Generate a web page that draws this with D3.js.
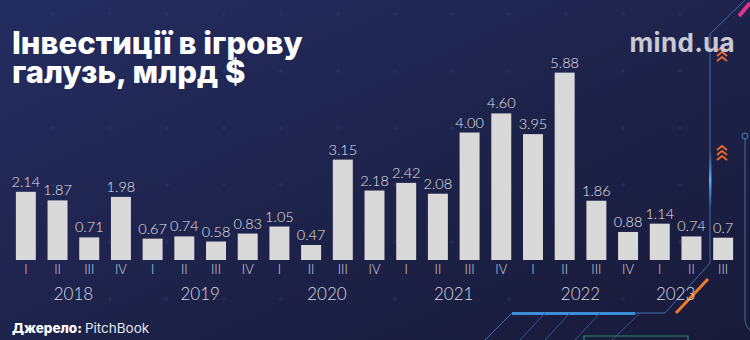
<!DOCTYPE html>
<html><head><meta charset="utf-8">
<script src="https://cdn.jsdelivr.net/npm/d3@7"></script>
<style>html,body{margin:0;padding:0;background:#1c2147;}svg{display:block;}</style>
</head><body>
<svg id="chart" width="750" height="340"></svg>
<script>
const quarters = ["I","II","III","IV","I","II","III","IV","I","II","III","IV","I","II","III","IV","I","II","III","IV","I","II","III"];
const years    = [2018,2018,2018,2018,2019,2019,2019,2019,2020,2020,2020,2020,2021,2021,2021,2021,2022,2022,2022,2022,2023,2023,2023];
const values   = [2.14,1.87,0.71,1.98,0.67,0.74,0.58,0.83,1.05,0.47,3.15,2.18,2.42,2.08,4.00,4.60,3.95,5.88,1.86,0.88,1.14,0.74,0.7];
const valueLabels = ["2.14","1.87","0.71","1.98","0.67","0.74","0.58","0.83","1.05","0.47","3.15","2.18","2.42","2.08","4.00","4.60","3.95","5.88","1.86","0.88","1.14","0.74","0.7"];
const yearList = [2018,2019,2020,2021,2022,2023];
const titleLines = ["Інвестиції в ігрову","галузь, млрд $"];

const W = 750, H = 340;
const svg = d3.select("#chart");
const defs = svg.append("defs");
const bg = defs.append("linearGradient").attr("id","bg").attr("x1","0").attr("y1","0").attr("x2","1").attr("y2","1");
bg.append("stop").attr("offset","0").attr("stop-color","#242d61");
bg.append("stop").attr("offset","0.55").attr("stop-color","#1d2249");
bg.append("stop").attr("offset","1").attr("stop-color","#181a38");
svg.append("rect").attr("width",W).attr("height",H).attr("fill","url(#bg)");

// faint plus pattern
const pat = svg.append("g").attr("stroke","#3a4a8a").attr("stroke-opacity",0.3).attr("stroke-width",1);
for (let gx = 53; gx < 700; gx += 57) {
  for (let gy = 14; gy < 340; gy += 57) {
    pat.append("line").attr("x1",gx-3).attr("x2",gx+3).attr("y1",gy).attr("y2",gy);
    pat.append("line").attr("x1",gx).attr("x2",gx).attr("y1",gy-3).attr("y2",gy+3);
  }
}

// decorations (right / bottom frame)
const deco = svg.append("g").attr("fill","none");
deco.append("path").attr("d","M745,0 L710,34 L710,263 L665,313 L512,313 L485,340")
  .attr("stroke","#3f6fa8").attr("stroke-width",1);
deco.append("line").attr("x1",512).attr("x2",635).attr("y1",313.5).attr("y2",313.5)
  .attr("stroke","#3b8fd8").attr("stroke-width",3);
[[545,313,520,340],[570,313,545,340],[600,313,575,340],[640,313,612,340]].forEach(d=>{
  deco.append("line").attr("x1",d[0]).attr("y1",d[1]).attr("x2",d[2]).attr("y2",d[3])
    .attr("stroke","#2f5a90").attr("stroke-width",1);
});
deco.append("path").attr("d","M584,340 L584,336 L688,336 L688,340").attr("stroke","#2e8a6a").attr("stroke-width",1.2);
deco.append("line").attr("x1",708).attr("y1",279).attr("x2",676).attr("y2",313)
  .attr("stroke","#f07a2a").attr("stroke-width",3);
deco.append("line").attr("x1",750).attr("y1",3).attr("x2",739).attr("y2",16)
  .attr("stroke","#e0358f").attr("stroke-width",4);
deco.append("path").attr("d","M745,139 L745,318 Q745,326 750,330")
  .attr("stroke","#3f6fa8").attr("stroke-width",1);
deco.append("circle").attr("cx",745).attr("cy",136).attr("r",3).attr("stroke","#4a86c0").attr("stroke-width",1);
const glow = defs.append("linearGradient").attr("id","glow").attr("x1","0").attr("y1","0").attr("x2","0").attr("y2","1");
glow.append("stop").attr("offset","0").attr("stop-color","#3b8fd8").attr("stop-opacity",0);
glow.append("stop").attr("offset","0.5").attr("stop-color","#5ab0ff").attr("stop-opacity",1);
glow.append("stop").attr("offset","1").attr("stop-color","#3b8fd8").attr("stop-opacity",0);
deco.append("rect").attr("x",709).attr("y",150).attr("width",2.5).attr("height",60).attr("fill","url(#glow)");
function chevrons(cx, cy) {
  for (let i = 0; i < 3; i++) {
    deco.append("path").attr("d",`M${cx-5},${cy+i*5+4} L${cx},${cy+i*5} L${cx+5},${cy+i*5+4}`)
      .attr("stroke","#f06a2a").attr("stroke-width",1.8);
  }
}
chevrons(722, 47);
chevrons(722, 146);

// scales
const x = d3.scaleBand().domain(d3.range(values.length)).range([10, 739]).paddingInner(0.37).paddingOuter(0.185);
const y = d3.scaleLinear().domain([0, 6]).range([260, 68.8]);

const font = "Lato, 'Open Sans', sans-serif";

svg.append("g").selectAll("rect").data(values).join("rect")
  .attr("x",(d,i)=>x(i)).attr("width",x.bandwidth())
  .attr("y",d=>y(d)).attr("height",d=>y(0)-y(d))
  .attr("fill","#d9d9d9");

svg.append("g").selectAll("text").data(values).join("text")
  .attr("x",(d,i)=>x(i)+x.bandwidth()/2).attr("y",d=>y(d)-5)
  .attr("text-anchor","middle").attr("font-family",font).attr("font-weight",300)
  .attr("font-size",14.5).attr("fill","#e2e2e6")
  .text((d,i)=>valueLabels[i]);

// quarter axis
const qAxis = d3.axisBottom(x).tickSize(0).tickPadding(0).tickFormat(i=>quarters[i]);
const qg = svg.append("g").attr("transform","translate(0,265)").call(qAxis);
qg.select(".domain").remove();
qg.selectAll("text").attr("font-family",font).attr("font-weight",300).attr("font-size",13)
  .attr("fill","#d8d8e0").attr("dy","0.71em");

// year labels (centred under their quarters; the partial 2023 sits between I and II)
const yearX = yr => {
  const idx = years.map((v,i)=>v===yr?i:-1).filter(i=>i>=0);
  const c = idx.map(i=>x(i)+x.bandwidth()/2);
  if (idx.length < 4) return (c[0]+c[1])/2;
  return d3.mean(c);
};
svg.append("g").selectAll("text").data(yearList).join("text")
  .attr("x",d=>yearX(d)).attr("y",300)
  .attr("text-anchor","middle").attr("font-family",font).attr("font-weight",300)
  .attr("font-size",17).attr("fill","#d8d8e0").text(d=>d);

// title: one text element, two tight lines (as in the reference), fitted to its width
const title = svg.append("text")
  .attr("font-family","Inter, Roboto, sans-serif").attr("font-weight",800)
  .attr("font-size",29).attr("fill","#ffffff");
title.selectAll("tspan").data(titleLines).join("tspan")
  .attr("x",12).attr("y",(d,i)=>54+i*29).text(d=>d);
const firstLine = title.select("tspan").node();
const w0 = firstLine.getComputedTextLength();
if (w0 > 0) title.attr("font-size", Math.min(31, 29 * 301 / w0));

svg.append("text").attr("x",735).attr("y",52).attr("text-anchor","end")
  .attr("font-family","Inter, Roboto, sans-serif").attr("font-weight",700)
  .attr("font-size",26).attr("letter-spacing",0.3).attr("fill","#c9c9d3").text("mind.ua");

const src = svg.append("text").attr("x",12).attr("y",333)
  .attr("font-family","Inter, Roboto, sans-serif").attr("font-size",13.5).attr("fill","#ffffff");
src.append("tspan").attr("font-weight",800).text("Джерело: ");
src.append("tspan").attr("font-weight",400).attr("fill","#e6e6ee").text("PitchBook");
</script>
</body></html>
